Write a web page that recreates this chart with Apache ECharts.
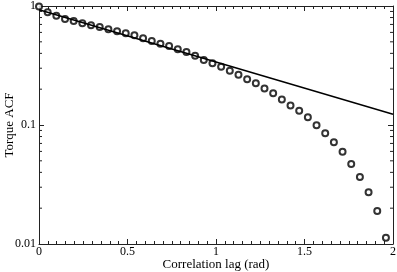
<!DOCTYPE html>
<html>
<head>
<meta charset="utf-8">
<script src="https://cdn.jsdelivr.net/npm/echarts@6/dist/echarts.min.js"></script>
<style>html,body{margin:0;padding:0;background:#fff}#c{width:397px;height:272px}</style>
</head>
<body>
<div id="c"></div>
<script>
// Data
const acf = [0.99,0.885,0.829,0.778,0.748,0.716,0.689,0.666,0.637,0.613,0.590,0.567,0.535,0.508,0.482,0.461,0.433,0.410,0.382,
  0.352,0.330,0.309,0.286,0.265,0.242,0.224,0.203,0.185,0.164,0.146,0.132,0.116,0.0994,0.0851,
  0.0716,0.0597,0.0470,0.0366,0.0272,0.0189,0.0113];
const lag = [0,0.049,0.098,0.147,0.196,0.245,0.294,0.343,0.392,0.441,0.49,0.539,0.588,0.637,0.686,0.735,0.784,0.833,0.882,
  0.931,0.98,1.029,1.078,1.127,1.176,1.225,1.274,1.323,1.372,1.421,1.47,1.519,1.568,1.617,
  1.666,1.715,1.764,1.813,1.862,1.911,1.96];
const fitLag = [0, 2];
const fitAcf = [0.93, 0.123];
const xTicks = [0, 0.5, 1, 1.5, 2];
const yTicks = [0.01, 0.1, 1];
const yMinor = [0.02,0.03,0.04,0.05,0.06,0.07,0.08,0.09,0.2,0.3,0.4,0.5,0.6,0.7,0.8,0.9];

const font = 'Liberation Serif';
const axisColor = '#222';
const chart = echarts.init(document.getElementById('c'), null, {renderer:'canvas'});
const xCommon = {
  type:'value', min:0, max:2, interval:0.5,
  axisLine:{show:true, onZero:false, lineStyle:{color:axisColor, width:1}},
  axisTick:{show:true, inside:true, length:5, lineStyle:{color:axisColor}},
  minorTick:{show:true, splitNumber:10, length:3, lineStyle:{color:axisColor}},
  splitLine:{show:false}, minorSplitLine:{show:false}
};
const yCommon = {
  type:'log', logBase:10, min:0.01, max:1,
  axisLine:{show:true, onZero:false, lineStyle:{color:axisColor, width:1}},
  axisTick:{show:true, inside:true, length:5, lineStyle:{color:axisColor}},
  minorTick:{show:false},
  splitLine:{show:false}
};
chart.setOption({
  animation:false,
  backgroundColor:'#fff',
  grid:{left:39, right:4, top:6, bottom:28, containLabel:false, outerBoundsMode:'none'},
  xAxis:[
    Object.assign({}, xCommon, {
      position:'bottom',
      name:'Correlation lag (rad)', nameLocation:'middle', nameGap:14, nameMoveOverlap:false,
      nameTextStyle:{fontFamily:font, fontSize:13, color:'#000', verticalAlign:'top'},
      axisLabel:{show:true, margin:2, fontFamily:font, fontSize:12, color:'#000',
        formatter:v => (xTicks.indexOf(v) >= 0 ? String(v) : '')}
    }),
    Object.assign({}, xCommon, {position:'top', axisLabel:{show:false}})
  ],
  yAxis:[
    Object.assign({}, yCommon, {
      position:'left',
      name:'Torque ACF', nameLocation:'middle', nameGap:23, nameMoveOverlap:false,
      nameTextStyle:{fontFamily:font, fontSize:13, color:'#000'},
      axisLabel:{show:true, margin:3, fontFamily:font, fontSize:12, color:'#000',
        formatter:v => (yTicks.some(t => Math.abs(t - v) < 1e-9) ? String(+v.toPrecision(3)) : '')}
    }),
    Object.assign({}, yCommon, {position:'right', axisLabel:{show:false}})
  ],
  series:[
    {
      type:'line', xAxisIndex:0, yAxisIndex:0,
      data: fitLag.map((x,i)=>[x, fitAcf[i]]),
      showSymbol:false, symbol:'none',
      lineStyle:{color:'#000', width:1.5}
    },
    {
      type:'scatter', xAxisIndex:0, yAxisIndex:0,
      data: lag.map((x,i)=>[x, acf[i]]),
      symbol:'emptyCircle', symbolSize:6,
      itemStyle:{color:'#000', borderColor:'#000', borderWidth:1.3},
      clip:false
    },
    {
      type:'custom', xAxisIndex:0, yAxisIndex:0, clip:false, silent:true,
      data: yMinor.map(v=>[0, v]),
      renderItem:function(params, api){
        const v = api.value(1);
        const pl = api.coord([0, v]);
        const pr = api.coord([2, v]);
        return {type:'group', children:[
          {type:'line', shape:{x1:pl[0], y1:pl[1], x2:pl[0]+3, y2:pl[1]}, style:{stroke:axisColor, lineWidth:1}},
          {type:'line', shape:{x1:pr[0]-3, y1:pr[1], x2:pr[0], y2:pr[1]}, style:{stroke:axisColor, lineWidth:1}}
        ]};
      }
    }
  ]
});
</script>
</body>
</html>
